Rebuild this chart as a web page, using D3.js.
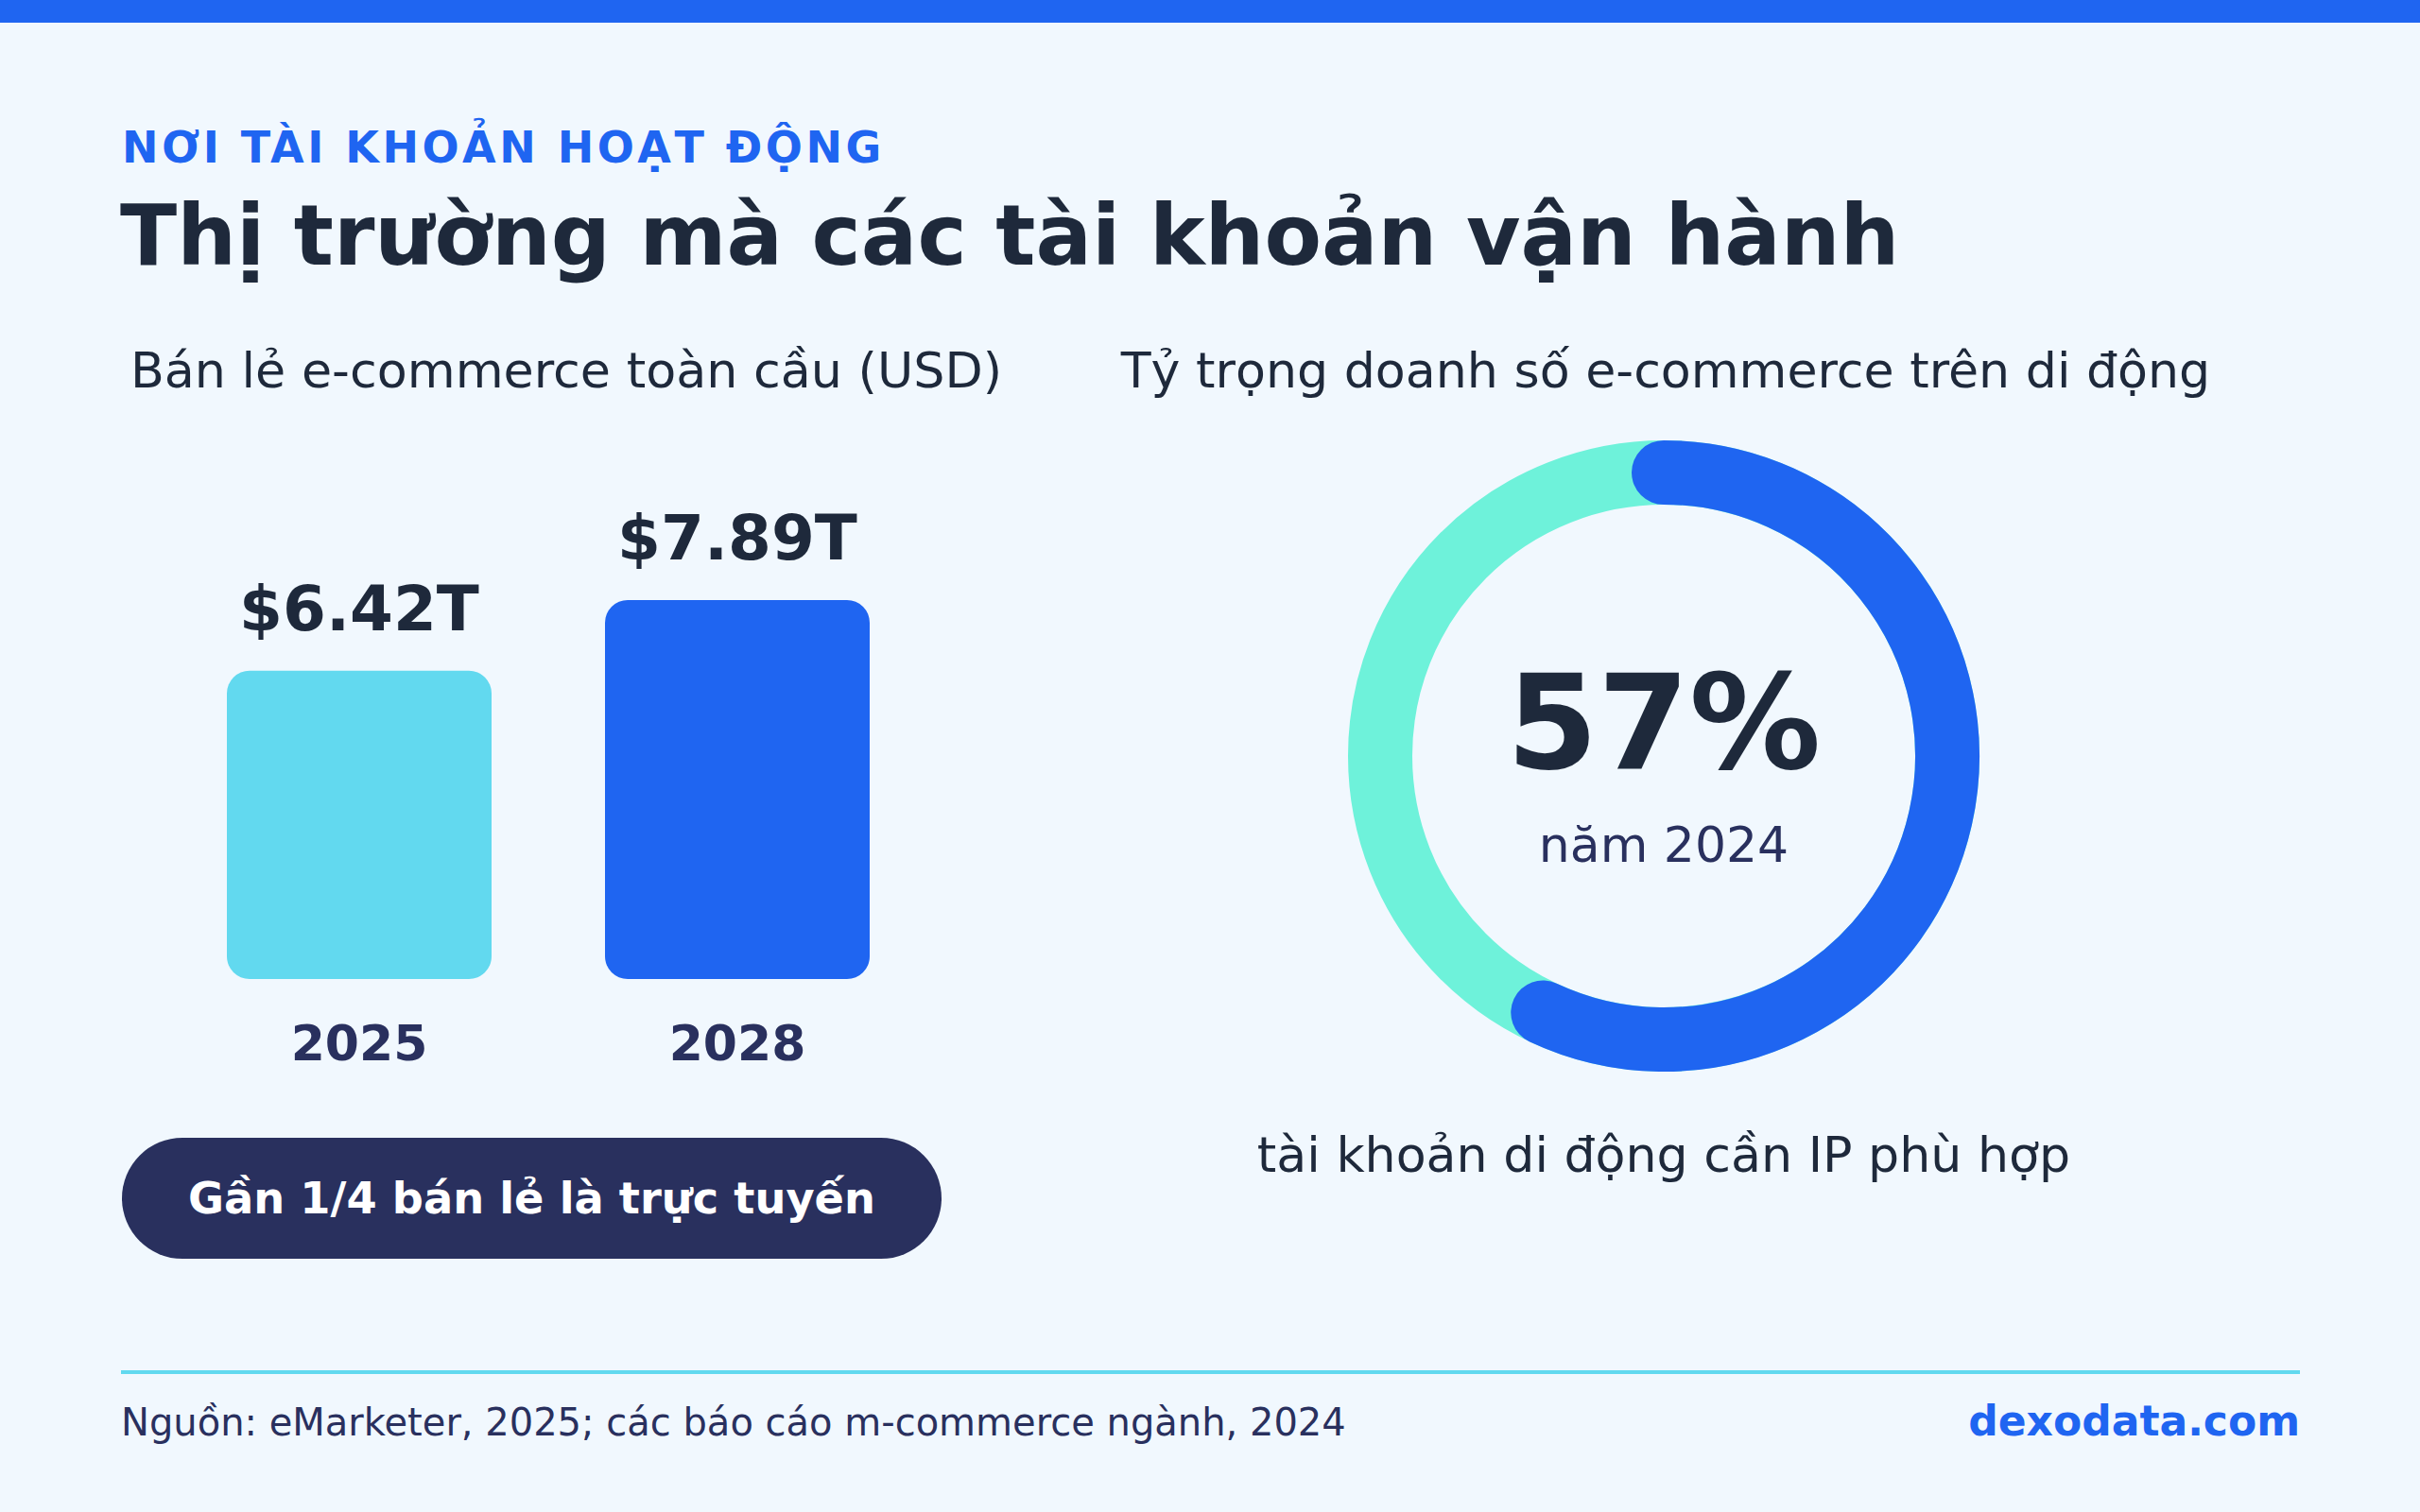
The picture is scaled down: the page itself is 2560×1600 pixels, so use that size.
<!DOCTYPE html>
<html><head><meta charset="utf-8">
<script src="https://cdn.jsdelivr.net/npm/d3@7"></script>
<style>html,body{margin:0;padding:0;background:#f1f8fe;}svg{display:block;font-family:"DejaVu Sans",sans-serif;}</style>
</head><body><svg id="c" width="2560" height="1600"></svg>
<script>
const kicker = "NƠI TÀI KHOẢN HOẠT ĐỘNG";
const title = "Thị trường mà các tài khoản vận hành";
const leftSubtitle = "Bán lẻ e-commerce toàn cầu (USD)";
const rightSubtitle = "Tỷ trọng doanh số e-commerce trên di động";
const years = ["2025", "2028"];
const retailValues = [6.42, 7.89];
const valueLabels = ["$6.42T", "$7.89T"];
const pillText = "Gần 1/4 bán lẻ là trực tuyến";
const mobileShare = [0.57];
const shareLabel = ["57%"];
const shareYear = ["năm 2024"];
const donutCaption = "tài khoản di động cần IP phù hợp";
const source = "Nguồn: eMarketer, 2025; các báo cáo m-commerce ngành, 2024";
const brand = "dexodata.com";

const svg = d3.select("#c");
const C = {bg:"#f1f8fe", blue:"#1f65f1", cyan:"#62d9ef", aqua:"#6ef2da", navy:"#29305e", dark:"#1e293b"};
svg.append("rect").attr("width",2560).attr("height",1600).attr("fill",C.bg);
svg.append("rect").attr("width",2560).attr("height",24).attr("fill",C.blue);

svg.append("text").attr("x",129).attr("y",172).attr("font-size",46).attr("font-weight","bold")
  .attr("letter-spacing",3.5).attr("fill",C.blue).text(kicker);
svg.append("text").attr("x",127).attr("y",280).attr("font-size",88.2).attr("font-weight","bold")
  .attr("fill",C.dark).text(title);

svg.append("text").attr("x",599).attr("y",410).attr("text-anchor","middle").attr("font-size",52.3)
  .attr("fill",C.dark).text(leftSubtitle);
svg.append("text").attr("x",1762).attr("y",410).attr("text-anchor","middle").attr("font-size",52.2)
  .attr("fill",C.dark).text(rightSubtitle);

// bars
const x = d3.scaleBand().domain(years).range([140,1020]).paddingInner(0.3).paddingOuter(0.25);
const y = d3.scaleLinear().domain([0, d3.max(retailValues)]).range([1036, 635]);
const barFill = [C.cyan, C.blue];
const g = svg.append("g");
g.selectAll("rect.bar").data(years).join("rect").attr("class","bar")
  .attr("x",d=>x(d)).attr("width",x.bandwidth())
  .attr("y",(d,i)=>y(retailValues[i])).attr("height",(d,i)=>y(0)-y(retailValues[i]))
  .attr("rx",24).attr("fill",(d,i)=>barFill[i]);
g.selectAll("text.val").data(years).join("text").attr("class","val")
  .attr("x",d=>x(d)+x.bandwidth()/2).attr("y",(d,i)=>y(retailValues[i])-43)
  .attr("text-anchor","middle").attr("font-size",66).attr("font-weight","bold").attr("fill",C.dark)
  .text((d,i)=>valueLabels[i]);
const xAxis = d3.axisBottom(x).tickSize(0).tickPadding(0);
const ax = svg.append("g").attr("transform","translate(0,1086)").call(xAxis);
ax.select(".domain").remove();
ax.selectAll("text").attr("font-size",52).attr("font-weight","bold").attr("fill",C.navy)
  .attr("font-family","DejaVu Sans").attr("dy","0.7em");

// pill
svg.append("rect").attr("x",129).attr("y",1204).attr("width",867).attr("height",128).attr("rx",64).attr("fill",C.navy);
svg.append("text").attr("x",562.5).attr("y",1284).attr("text-anchor","middle").attr("font-size",46.3)
  .attr("font-weight","bold").attr("fill","#ffffff").text(pillText);

// donut
const cx = 1760, cy = 800, r = 300, sw = 68;
const dg = svg.append("g").attr("transform",`translate(${cx},${cy})`);
dg.append("circle").attr("r",r).attr("fill","none").attr("stroke",C.aqua).attr("stroke-width",sw);
const ang = d3.scaleLinear().domain([0,1]).range([-Math.PI/2, 1.5*Math.PI]);
const p = d3.path();
p.arc(0,0,r,ang(0),ang(mobileShare[0]),false);
dg.append("path").attr("d",p.toString()).attr("fill","none").attr("stroke",C.blue)
  .attr("stroke-width",sw).attr("stroke-linecap","round");
dg.append("text").attr("y",13).attr("text-anchor","middle").attr("font-size",139).attr("font-weight","bold")
  .attr("fill",C.dark).text(shareLabel[0]);
dg.append("text").attr("y",112).attr("text-anchor","middle").attr("font-size",52)
  .attr("fill",C.navy).text(shareYear[0]);
svg.append("text").attr("x",1760).attr("y",1240).attr("text-anchor","middle").attr("font-size",52.2)
  .attr("fill",C.dark).text(donutCaption);

// footer
svg.append("rect").attr("x",128).attr("y",1450).attr("width",2305).attr("height",4).attr("fill",C.cyan);
svg.append("text").attr("x",128).attr("y",1519).attr("font-size",40).attr("fill",C.navy).text(source);
svg.append("text").attr("x",2433).attr("y",1519).attr("text-anchor","end").attr("font-size",44)
  .attr("font-weight","bold").attr("fill",C.blue).text(brand);
</script></body></html>
